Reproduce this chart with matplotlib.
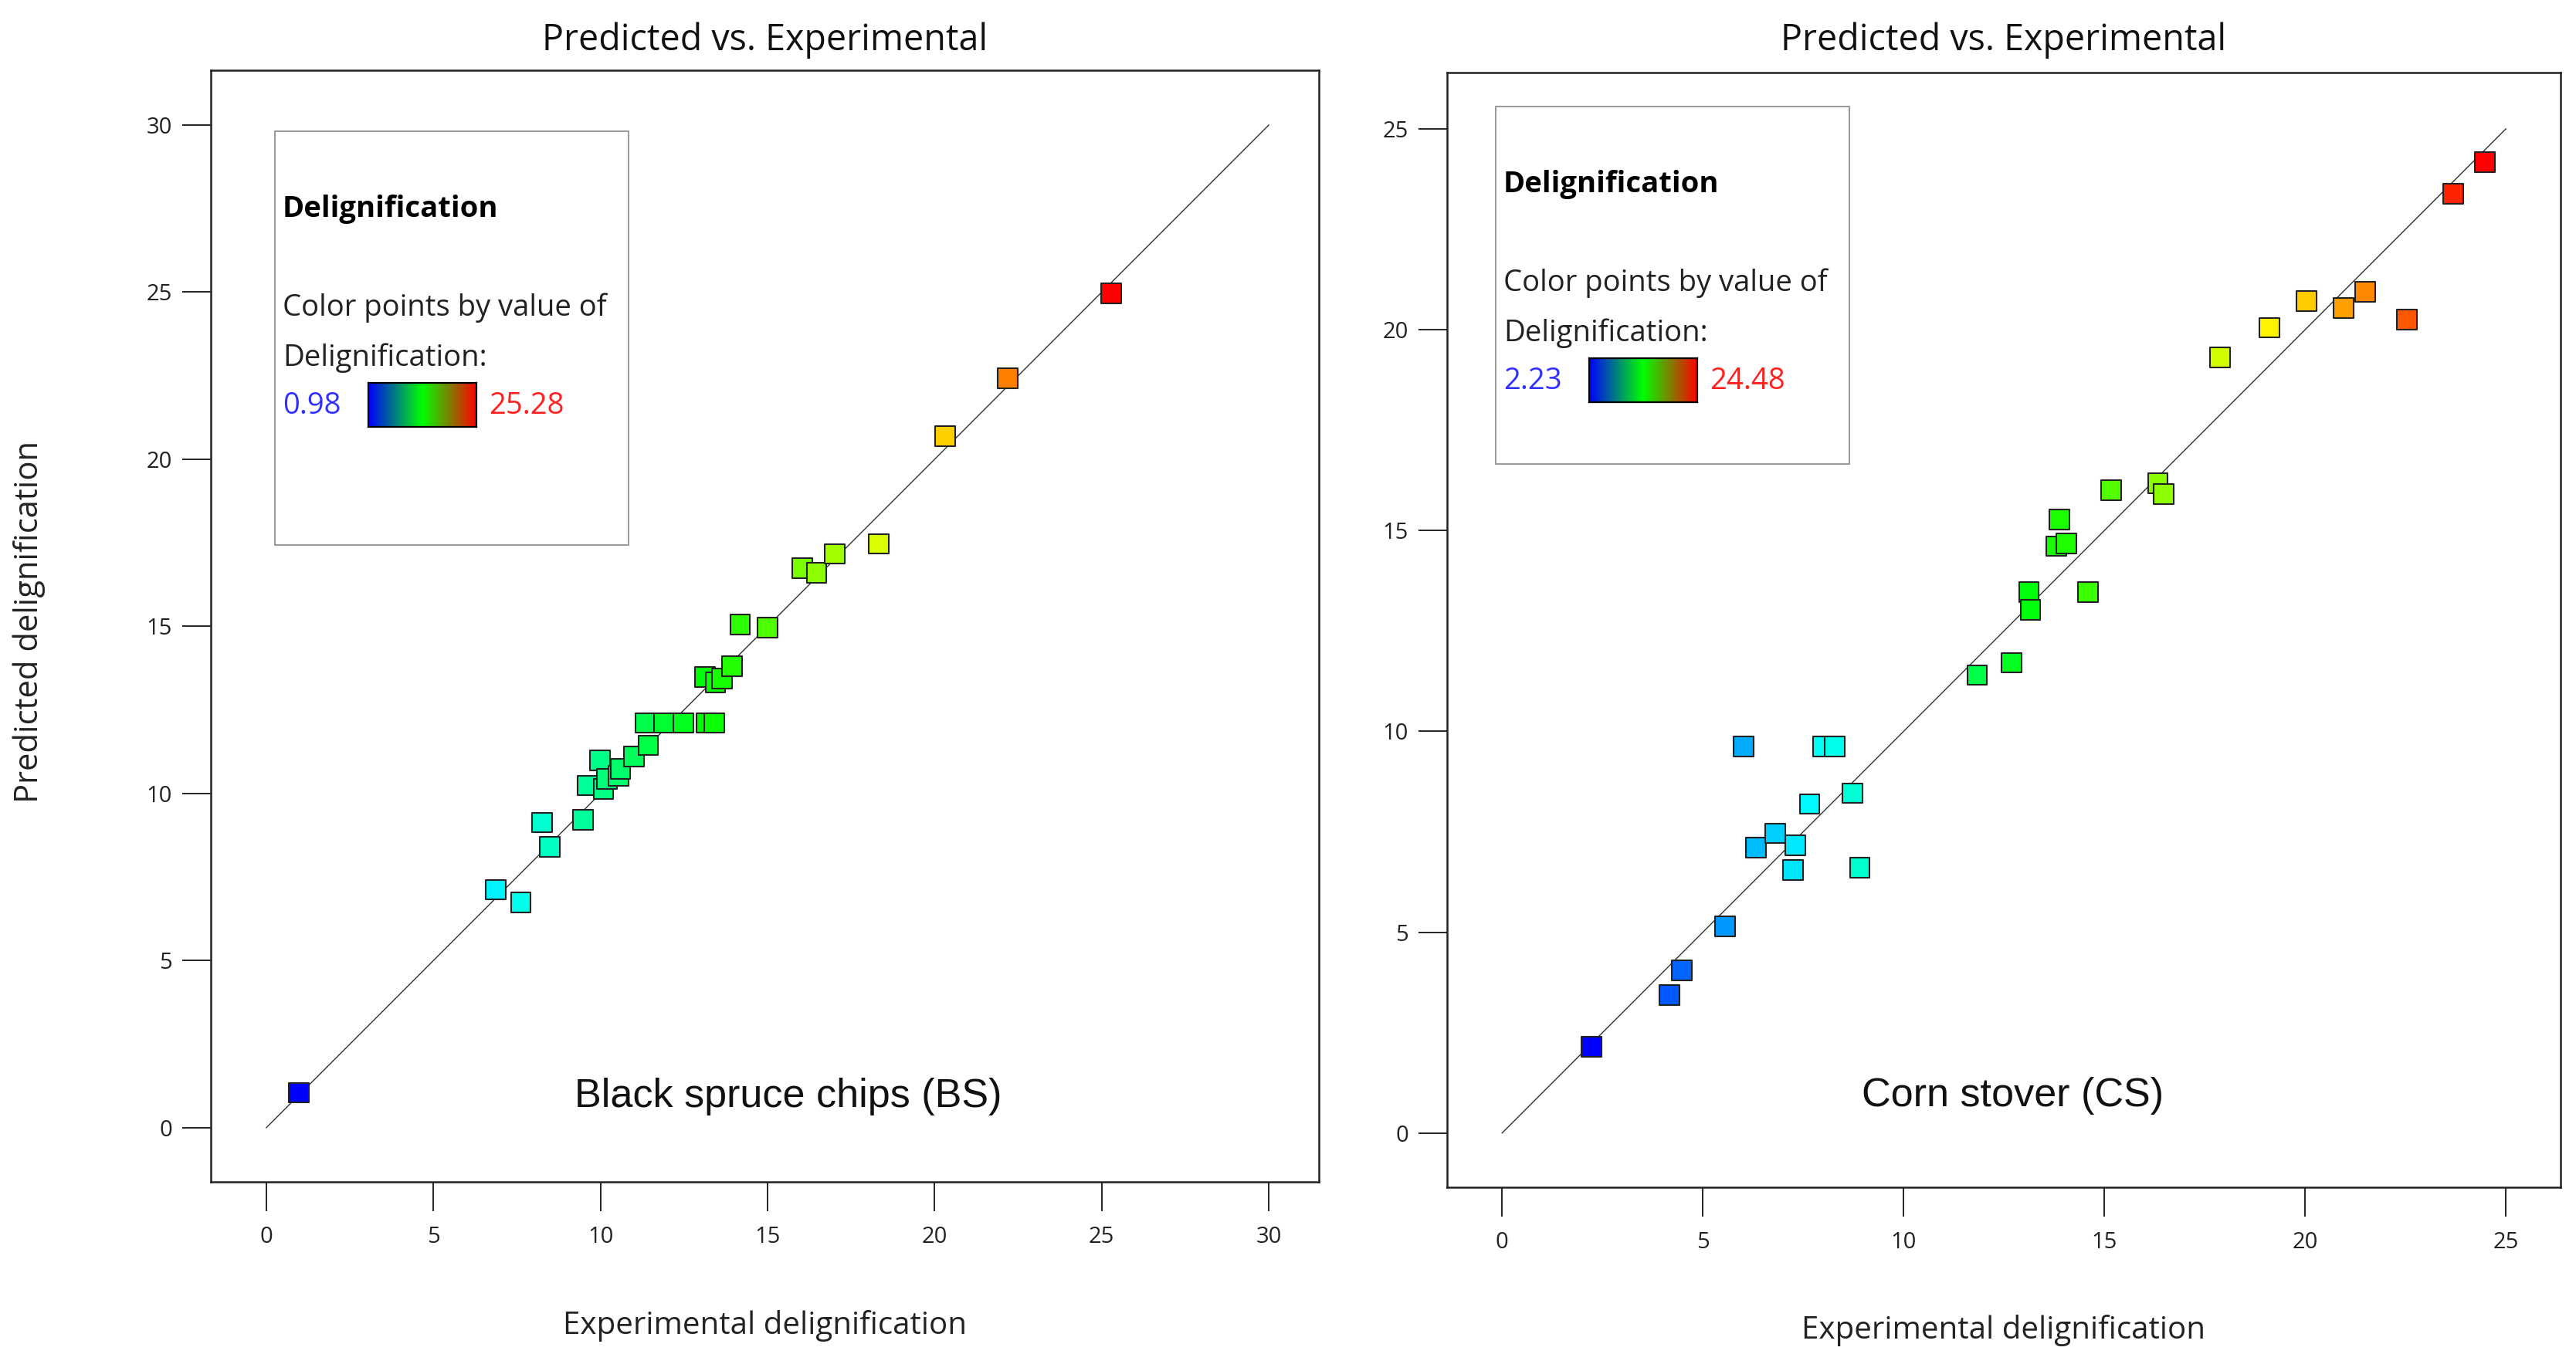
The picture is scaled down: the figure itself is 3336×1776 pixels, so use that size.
import numpy as np
import matplotlib
matplotlib.use("Agg")
import matplotlib.pyplot as plt
from matplotlib.colors import ListedColormap, LinearSegmentedColormap, Normalize, hsv_to_rgb
from matplotlib.patches import Rectangle

# ---------------- data ----------------
bs_exp = [0.98, 6.86, 7.62, 8.25, 8.48, 9.48, 9.61, 9.98, 10.09, 10.19, 10.54, 10.60,
          11.00, 11.43, 11.34, 11.90, 12.49, 13.18, 13.40, 13.12, 13.44, 13.64, 13.94,
          14.18, 15.00, 16.04, 16.47, 17.01, 18.33, 20.32, 22.19, 25.28]
bs_pred = [1.05, 7.12, 6.75, 9.13, 8.41, 9.22, 10.24, 11.00, 10.13, 10.44, 10.52, 10.74,
           11.11, 11.44, 12.11, 12.11, 12.11, 12.11, 12.11, 13.49, 13.33, 13.44, 13.81,
           15.05, 14.97, 16.75, 16.60, 17.17, 17.47, 20.70, 22.42, 24.97]

cs_exp = [2.23, 4.17, 4.48, 5.55, 6.01, 6.32, 6.81, 7.31, 7.24, 7.66, 7.99, 8.28, 8.73,
          8.91, 11.83, 12.69, 13.12, 13.16, 13.81, 14.05, 13.88, 14.59, 15.17, 16.33,
          16.48, 17.88, 19.11, 20.04, 20.96, 21.49, 22.54, 23.68, 24.48]
cs_pred = [2.14, 3.43, 4.05, 5.14, 9.62, 7.11, 7.46, 7.17, 6.55, 8.19, 9.62, 9.62, 8.46,
           6.61, 11.40, 11.71, 13.47, 13.03, 14.61, 14.68, 15.28, 13.47, 16.01, 16.17,
           15.90, 19.31, 20.05, 20.71, 20.54, 20.94, 20.25, 23.39, 24.17]

bs_ticks = [0, 5, 10, 15, 20, 25, 30]
cs_ticks = [0, 5, 10, 15, 20, 25]
bs_range = ("0.98", "25.28")
cs_range = ("2.23", "24.48")
title_text = "Predicted vs. Experimental"
xlabel_text = "Experimental delignification"
ylabel_text = "Predicted delignification"
bs_name = "Black spruce chips (BS)"
cs_name = "Corn stover (CS)"

# ---------------- style ----------------
UI = ["Open Sans", "DejaVu Sans"]
plt.rcParams["font.family"] = UI

W, H = 3336, 1776
fig = plt.figure(figsize=(W / 100, H / 100), dpi=100)
fig.patch.set_facecolor("white")

hues = np.linspace(240, 0, 256) / 360.0
hsv = np.stack([hues, np.ones(256), np.ones(256)], axis=1)
point_cmap = ListedColormap(hsv_to_rgb(hsv))
bar_cmap = LinearSegmentedColormap.from_list("bar", ["#0000ff", "#00ff00", "#ff0000"])

LEG_FS = 27.5


def fx(px):
    return px / W


def fy(py):
    return 1 - py / H


def panel(rect, exp, pred, ticks, lims, rng, name, name_pos, box, title_base,
          xlabel_base):
    ax = fig.add_axes(rect)
    ax.set_xlim(*lims[0])
    ax.set_ylim(*lims[1])
    top = ticks[-1]
    ax.plot([0, top], [0, top], color="#333333", lw=1.0, zorder=2)
    norm = Normalize(min(exp), max(exp))
    ax.scatter(exp, pred, s=345, marker="s", c=exp, cmap=point_cmap, norm=norm,
               edgecolors="#222222", linewidths=1.5, zorder=3)
    ax.set_xticks(ticks)
    ax.set_yticks(ticks)
    ax.tick_params(axis="both", direction="out", length=27, width=1.4,
                   color="#222222", labelsize=21, labelcolor="#222222")
    ax.tick_params(axis="x", pad=14)
    ax.tick_params(axis="y", pad=9)
    for sp in ax.spines.values():
        sp.set_linewidth(1.8)
        sp.set_color("#222222")
    ax.text(0.5, title_base, title_text, transform=ax.transAxes, ha="center",
            va="baseline", fontsize=33.6, color="#111111")
    ax.text(0.5, xlabel_base, xlabel_text, transform=ax.transAxes, ha="center",
            va="baseline", fontsize=29, color="#222222")
    ax.text(name_pos[0], name_pos[1], name, transform=ax.transAxes, ha="center",
            va="center", fontsize=37.5, family=["Liberation Sans", "DejaVu Sans"],
            color="#111111")

    # legend box (pixel layout)
    bx, by, bw, bh = box
    fig.patches.append(Rectangle((fx(bx), fy(by + bh)), bw / W, bh / H,
                                 transform=fig.transFigure, facecolor="white",
                                 edgecolor="#999999", lw=1.4, zorder=5))
    tx = bx + 10
    fig.text(fx(tx), fy(by + 111), "Delignification", ha="left", va="baseline",
             fontsize=LEG_FS, fontweight="bold", color="black", zorder=6)
    fig.text(fx(tx), fy(by + 239), "Color points by value of", ha="left",
             va="baseline", fontsize=LEG_FS, color="#222222", zorder=6)
    fig.text(fx(tx), fy(by + 304), "Delignification:", ha="left", va="baseline",
             fontsize=LEG_FS, color="#222222", zorder=6)
    fig.text(fx(tx), fy(by + 366), rng[0], ha="left", va="baseline",
             fontsize=LEG_FS, color="#3030ff", zorder=6)
    fig.text(fx(bx + 277), fy(by + 366), rng[1], ha="left", va="baseline",
             fontsize=LEG_FS, color="#ff2020", zorder=6)
    cax = fig.add_axes([fx(bx + 121), fy(by + 383), 140 / W, 57 / H])
    cax.set_zorder(10)
    cax.imshow(np.linspace(0, 1, 256)[None, :], aspect="auto", cmap=bar_cmap,
               extent=[0, 1, 0, 1])
    cax.set_xticks([])
    cax.set_yticks([])
    for sp in cax.spines.values():
        sp.set_linewidth(1.6)
        sp.set_color("black")
    return ax


axL = panel([fx(273), fy(1531), 1435 / W, 1440 / H], bs_exp, bs_pred, bs_ticks,
            ((-1.66, 31.5), (-1.62, 31.64)), bs_range, bs_name, (0.521, 0.077),
            (356, 170, 458, 536), 1.018, -0.1368)
axR = panel([fx(1874), fy(1538), 1442 / W, 1444 / H], cs_exp, cs_pred, cs_ticks,
            ((-1.37, 26.36), (-1.35, 26.4)), cs_range, cs_name, (0.508, 0.082),
            (1937, 138, 458, 463), 1.020, -0.1357)

fig.text(fx(38), fy(806), ylabel_text, rotation=90, ha="center", va="center",
         fontsize=30, color="#222222")

fig.savefig("out.png", dpi=100, facecolor="white")
